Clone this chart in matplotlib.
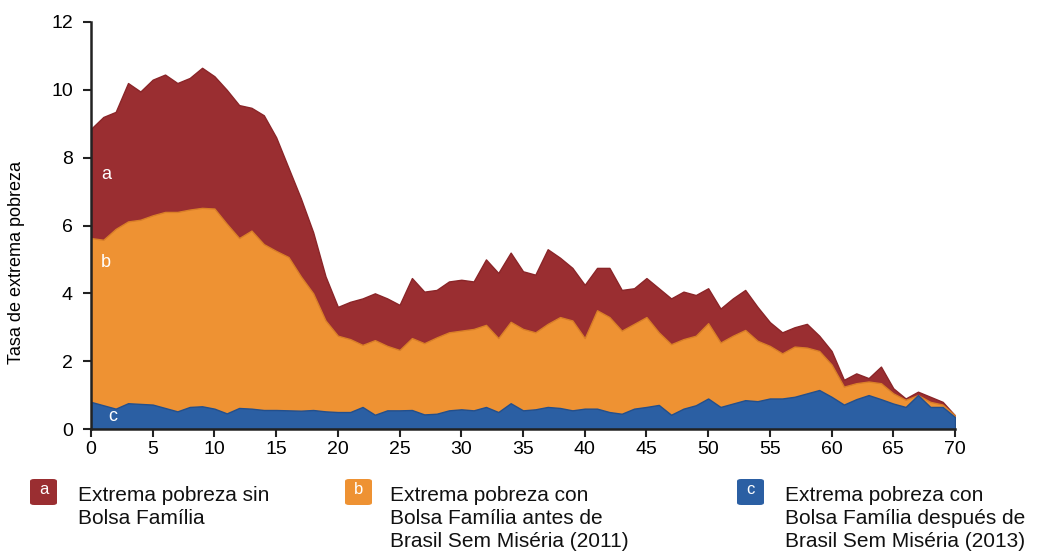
import matplotlib
matplotlib.use("Agg")
import matplotlib.pyplot as plt
from matplotlib.patches import FancyBboxPatch
import numpy as np

ages = list(range(0, 71))

sin_bolsa = [8.85, 9.2, 9.35, 10.2, 9.95, 10.3, 10.45, 10.2, 10.35, 10.65,
             10.4, 10.0, 9.55, 9.47, 9.25, 8.6, 7.7, 6.8, 5.8, 4.5,
             3.6, 3.75, 3.85, 4.0, 3.85, 3.66, 4.45, 4.05, 4.1, 4.35,
             4.4, 4.35, 5.0, 4.6, 5.2, 4.65, 4.55, 5.3, 5.05, 4.75,
             4.25, 4.75, 4.75, 4.1, 4.15, 4.45, 4.15, 3.85, 4.05, 3.95,
             4.15, 3.55, 3.85, 4.1, 3.6, 3.15, 2.85, 3.0, 3.1, 2.75,
             2.3, 1.45, 1.64, 1.5, 1.84, 1.2, 0.9, 1.1, 0.95, 0.8, 0.4]

antes_bsm = [5.63, 5.58, 5.9, 6.12, 6.17, 6.3, 6.4, 6.4, 6.47, 6.52,
             6.5, 6.05, 5.63, 5.85, 5.45, 5.25, 5.07, 4.5, 4.0, 3.2,
             2.75, 2.65, 2.48, 2.62, 2.45, 2.33, 2.68, 2.53, 2.7, 2.85,
             2.9, 2.95, 3.07, 2.68, 3.16, 2.95, 2.85, 3.1, 3.3, 3.2,
             2.68, 3.5, 3.3, 2.9, 3.1, 3.3, 2.85, 2.5, 2.65, 2.75,
             3.12, 2.55, 2.75, 2.92, 2.6, 2.45, 2.23, 2.43, 2.4, 2.3,
             1.9, 1.25, 1.35, 1.4, 1.35, 1.05, 0.86, 1.0, 0.8, 0.72, 0.4]

despues_bsm = [0.8, 0.7, 0.6, 0.76, 0.74, 0.72, 0.62, 0.52, 0.65, 0.67,
               0.6, 0.46, 0.62, 0.6, 0.56, 0.56, 0.55, 0.54, 0.56, 0.52,
               0.5, 0.5, 0.65, 0.42, 0.55, 0.55, 0.56, 0.43, 0.45, 0.55,
               0.58, 0.55, 0.65, 0.5, 0.76, 0.55, 0.58, 0.65, 0.62, 0.55,
               0.6, 0.6, 0.5, 0.45, 0.6, 0.65, 0.71, 0.42, 0.6, 0.7,
               0.9, 0.65, 0.75, 0.85, 0.82, 0.9, 0.9, 0.95, 1.05, 1.15,
               0.95, 0.72, 0.88, 1.0, 0.88, 0.75, 0.65, 1.0, 0.65, 0.65, 0.35]

series_letters = ["a", "b", "c"]
legend_labels = ["Extrema pobreza sin\nBolsa Família",
                 "Extrema pobreza con\nBolsa Família antes de\nBrasil Sem Miséria (2011)",
                 "Extrema pobreza con\nBolsa Família después de\nBrasil Sem Miséria (2013)"]
colors = ["#9A2E31", "#EE9233", "#2B5FA3"]
edge_colors = ["#8A2528", "#D97F28", "#234F8C"]

x_ticks = list(range(0, 71, 5))
y_ticks = list(range(0, 13, 2))

plt.rcParams['font.family'] = ['Liberation Sans', 'DejaVu Sans']

fig = plt.figure(figsize=(10.44, 5.54), dpi=100)
ax = fig.add_axes([91/1044, 1 - 429/554, (955 - 91)/1044, (429 - 22)/554])

for vals, c, ec in zip([sin_bolsa, antes_bsm, despues_bsm], colors, edge_colors):
    ax.fill_between(ages, 0, vals, facecolor=c, edgecolor=ec, linewidth=1.0)

ax.set_xlim(0, 70)
ax.set_ylim(0, 12)
ax.set_xticks(x_ticks)
ax.set_yticks(y_ticks)
ax.tick_params(axis='both', direction='out', length=6, width=1.5, color='#222222',
               labelsize=14)
ax.tick_params(axis='x', pad=3)
ax.tick_params(axis='y', pad=7)
for sp in ['top', 'right']:
    ax.spines[sp].set_visible(False)
for sp in ['left', 'bottom']:
    ax.spines[sp].set_linewidth(1.8)
    ax.spines[sp].set_color('#222222')
    ax.spines[sp].set_zorder(5)
ax.set_ylabel("Tasa de extrema pobreza", fontsize=13)
ax.yaxis.set_label_coords(-0.076, 0.408)

# in-chart letters
ax.text(0.8, 7.5, "a", color="white", fontsize=13, ha="left", va="center")
ax.text(0.8, 4.9, "b", color="white", fontsize=13, ha="left", va="center")
ax.text(1.4, 0.38, "c", color="white", fontsize=13, ha="left", va="center")

# legend
sq_x = [30, 345, 737]
txt_x = [78, 390, 785]
for i in range(3):
    x0 = sq_x[i] / 1044
    y0 = 1 - 505 / 554
    w = 27 / 1044
    h = 26 / 554
    box = FancyBboxPatch((x0, y0), w, h, boxstyle="round,pad=0,rounding_size=0.004",
                         transform=fig.transFigure, facecolor=colors[i], edgecolor='none')
    fig.patches.append(box)
    fig.text(x0 + w / 2, y0 + h / 2 + 0.004, series_letters[i], color="white",
             fontsize=12, ha="center", va="center")
    fig.text(txt_x[i] / 1044, 1 - 486 / 554, legend_labels[i], fontsize=15,
             ha="left", va="top", linespacing=1.28, color="#111111")

fig.savefig("out.png", dpi=100)
